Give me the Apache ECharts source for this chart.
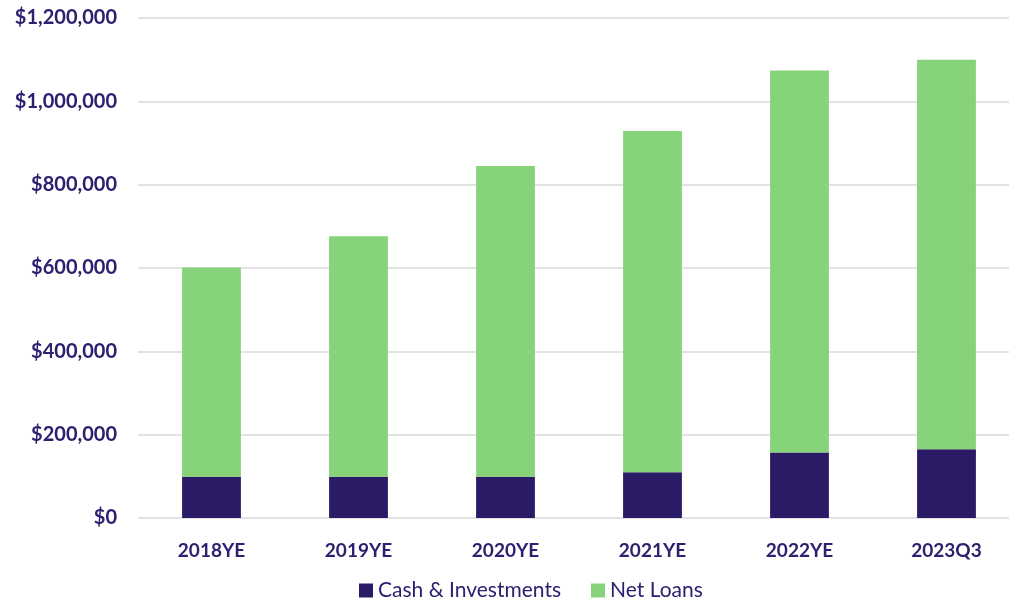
<!DOCTYPE html>
<html><head><meta charset="utf-8">
<script src="https://cdn.jsdelivr.net/npm/echarts@6/dist/echarts.min.js"></script>
<style>html,body{margin:0;padding:0;background:#fff}#c{width:1009px;height:608px}</style>
</head><body><div id="c"></div>
<script>
const categories = ['2018YE','2019YE','2020YE','2021YE','2022YE','2023Q3'];
const cashInvestments = [99000, 99000, 99000, 110000, 157000, 165000];
const netLoans = [502000, 577000, 746000, 819000, 917000, 935000];
const yTicks = [0, 200000, 400000, 600000, 800000, 1000000, 1200000];

const navy = '#2b1a66';
const txt = '#2a2170';
const chart = echarts.init(document.getElementById('c'));
chart.setOption({
  animation: false,
  grid: { left: 138, width: 882, top: 18, height: 500, containLabel: false, outerBoundsMode: 'none' },
  legend: {
    bottom: 2, left: 354, itemWidth: 14, itemHeight: 14, itemGap: 30,
    icon: 'rect',
    textStyle: { color: txt, fontFamily: 'Lato', fontSize: 21 },
    data: ['Cash & Investments', 'Net Loans']
  },
  xAxis: {
    type: 'category', data: categories,
    axisLine: { show: false }, axisTick: { show: false },
    axisLabel: { color: txt, fontFamily: 'Lato', fontWeight: 'bold', fontSize: 19, margin: 23 }
  },
  yAxis: {
    type: 'value', min: yTicks[0], max: yTicks[yTicks.length-1], interval: 200000,
    axisLine: { show: false }, axisTick: { show: false },
    splitLine: { lineStyle: { color: '#d9d9d9', width: 1.5 } },
    axisLabel: { color: txt, fontFamily: 'Lato', fontWeight: 'bold', fontSize: 20, margin: 21,
      formatter: v => '$' + v.toLocaleString('en-US') }
  },
  series: [
    { name: 'Cash & Investments', type: 'bar', stack: 't', data: cashInvestments, barWidth: '40%', itemStyle: { color: navy } },
    { name: 'Net Loans', type: 'bar', stack: 't', data: netLoans, barWidth: '40%', itemStyle: { color: '#87d37a' } }
  ]
});
</script></body></html>
